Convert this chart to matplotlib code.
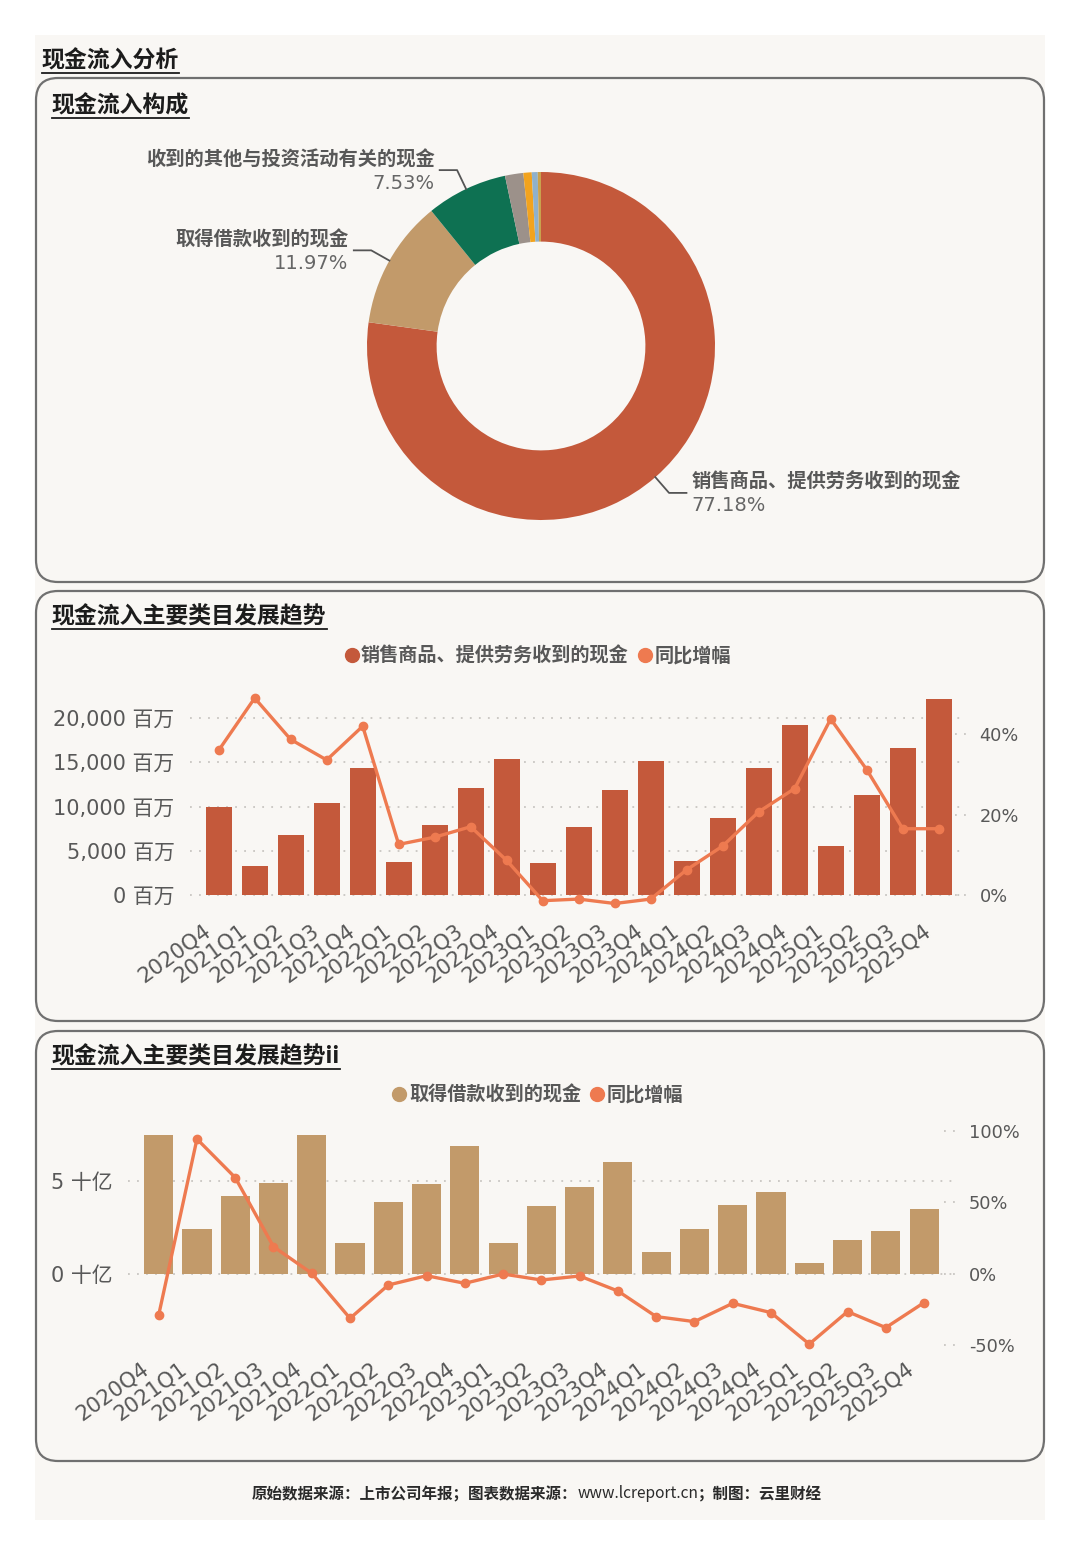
import matplotlib
matplotlib.use("Agg")
import numpy as np
import matplotlib.pyplot as plt
from matplotlib.patches import FancyBboxPatch, Rectangle
from matplotlib.lines import Line2D
from matplotlib.transforms import ScaledTranslation

W, H = 1080, 1555
DPI = 100

CJK = ['Noto Sans CJK SC', 'DejaVu Sans']
MIX = ['DejaVu Sans', 'Noto Sans CJK SC']
plt.rcParams['font.family'] = MIX

# ---- data ----
pie_names = ["销售商品、提供劳务收到的现金", "取得借款收到的现金",
             "收到的其他与投资活动有关的现金", "其他a", "其他b", "其他c", "其他d"]
pie_values = [77.18, 11.97, 7.53, 1.70, 0.77, 0.55, 0.30]
pie_colors = ['#C4593B', '#C29A6A', '#0E7152', '#9C918A', '#F2A31E', '#8FB1CB', '#C9A24E']
pie_labelled = [True, True, True, False, False, False, False]

quarters = ["2020Q4", "2021Q1", "2021Q2", "2021Q3", "2021Q4", "2022Q1", "2022Q2",
            "2022Q3", "2022Q4", "2023Q1", "2023Q2", "2023Q3", "2023Q4", "2024Q1",
            "2024Q2", "2024Q3", "2024Q4", "2025Q1", "2025Q2", "2025Q3", "2025Q4"]
# 销售商品、提供劳务收到的现金 (百万)
sales = [10000, 3300, 6800, 10400, 14300, 3700, 7900, 12100, 15400, 3600, 7700,
         11900, 15200, 3800, 8700, 14300, 19200, 5500, 11300, 16600, 22200]
sales_yoy = [36.0, 49.0, 38.7, 33.6, 42.0, 12.6, 14.4, 17.0, 8.6, -1.4, -1.0,
             -2.1, -1.0, 6.3, 12.2, 20.7, 26.5, 43.8, 31.2, 16.5, 16.5]
# 取得借款收到的现金 (十亿)
loans = [7.47, 2.44, 4.19, 4.91, 7.47, 1.68, 3.85, 4.82, 6.90, 1.68, 3.66,
         4.70, 6.04, 1.16, 2.42, 3.69, 4.41, 0.61, 1.81, 2.33, 3.48]
loans_yoy = [-28.7, 94.4, 67.4, 19.1, 0.5, -31.0, -7.7, -1.2, -6.5, 0.0, -4.2,
             -1.4, -11.9, -29.8, -33.3, -20.5, -27.0, -49.0, -26.3, -37.5, -20.0]

LINE_C = '#EE7A50'
TXT = '#585858'
GRID = '#c9c6c2'


def rect(x0, y0, x1, y1):
    return [x0 / W, 1 - y1 / H, (x1 - x0) / W, (y1 - y0) / H]


fig = plt.figure(figsize=(W / DPI, H / DPI), dpi=DPI, facecolor='white')

# background / frame axes in pixel units
bg = fig.add_axes([0, 0, 1, 1])
bg.set_xlim(0, W)
bg.set_ylim(H, 0)
bg.axis('off')
bg.add_patch(Rectangle((35, 35), 1010, 1485, facecolor='#F9F7F4', edgecolor='none'))
for (y0, y1) in [(78, 582), (591, 1021), (1031, 1461)]:
    bg.add_patch(FancyBboxPatch((36, y0), 1008, y1 - y0,
                                boxstyle="round,pad=0,rounding_size=22",
                                facecolor='none', edgecolor='#707070', lw=1.6))

titles = []
titles.append(bg.text(42, 61, "现金流入分析", family=CJK, fontsize=16.5,
                      weight='bold', color='#1c1c1c', va='center'))
titles.append(bg.text(52, 106, "现金流入构成", family=CJK, fontsize=16.5,
                      weight='bold', color='#1c1c1c', va='center'))
titles.append(bg.text(52, 617, "现金流入主要类目发展趋势", family=CJK, fontsize=16.5,
                      weight='bold', color='#1c1c1c', va='center'))
titles.append(bg.text(52, 1057, "现金流入主要类目发展趋势ii", family=CJK, fontsize=16.5,
                      weight='bold', color='#1c1c1c', va='center'))

# ---- pie ----
axp = fig.add_axes(rect(367, 172, 715, 520))
wedges, _ = axp.pie(pie_values, colors=pie_colors, startangle=90, counterclock=False,
                    wedgeprops=dict(width=0.4, edgecolor='none'))
axp.set_xlim(-1, 1)
axp.set_ylim(-1, 1)
axp.axis('off')
for w, name, val, show in zip(wedges, pie_names, pie_values, pie_labelled):
    if not show:
        continue
    ang = np.deg2rad((w.theta1 + w.theta2) / 2)
    x0, y0 = np.cos(ang), np.sin(ang)
    x1, y1 = 1.12 * x0, 1.12 * y0
    side = 1 if x0 > 0 else -1
    x2 = x1 + side * 0.1
    axp.plot([x0, x1, x2], [y0, y1, y1], color='#555555', lw=1.3, clip_on=False)
    ha = 'left' if side > 0 else 'right'
    xt = x2 + side * 0.03
    axp.text(xt, y1 + 0.005, name, ha=ha, va='bottom', family=CJK, fontsize=13.9,
             weight='bold', color=TXT)
    axp.text(xt, y1 - 0.02, f"{val:.2f}%", ha=ha, va='top', fontsize=14,
             color='#666666')


def trend(rect_px, values, yoy, bar_color, xlim, ylim, yticks, yfmt, rlim, rticks,
          width, lab_dx, lab_dy):
    ax = fig.add_axes(rect(*rect_px))
    ax.set_facecolor('none')
    x = np.arange(len(quarters))
    ax.bar(x, values, width=width, color=bar_color, zorder=2)
    ax.set_xlim(*xlim)
    ax.set_ylim(*ylim)
    ax.set_yticks(yticks)
    ax.set_yticklabels([yfmt(v) for v in yticks], fontsize=15, color=TXT)
    ax.set_xticks(x)
    ax.set_xticklabels(quarters, rotation=36, ha='right', va='center',
                       rotation_mode='anchor', fontsize=15.3, color=TXT)
    ax.tick_params(axis='y', length=0, pad=11)
    ax.tick_params(axis='x', length=0, pad=18)
    # shift labels after tick_params (it resets the label transforms)
    off = ScaledTranslation(lab_dx / DPI, lab_dy / DPI, fig.dpi_scale_trans)
    for lab in ax.get_xticklabels():
        lab.set_transform(lab.get_transform() + off)
    ax.yaxis.grid(True, linestyle=(0, (1, 4)), color=GRID, lw=1.3)
    ax.set_axisbelow(True)
    for s in ax.spines.values():
        s.set_visible(False)

    axr = ax.twinx()
    axr.plot(x, yoy, color=LINE_C, lw=2.4, marker='o', ms=6, clip_on=False, zorder=3)
    axr.set_ylim(*rlim)
    axr.set_yticks(rticks)
    axr.set_yticklabels([f"{v}%" for v in rticks], fontsize=12.8, color=TXT)
    axr.tick_params(axis='y', length=0, pad=12)
    for v in rticks:
        axr.axhline(v, xmin=0.99, xmax=1.012, linestyle=(0, (1, 4)), color=GRID,
                    lw=1.3, clip_on=False)
    for s in axr.spines.values():
        s.set_visible(False)
    return ax


trend((190, 697.7, 963, 903.9), sales, sales_yoy, '#C4593B',
      (-0.797, 20.675), (-1000, 22300), [0, 5000, 10000, 15000, 20000],
      lambda v: f"{v:,} 百万", (-2.2, 49.09), [0, 20, 40], 0.72, -10, 0)

trend((128, 1131, 952, 1346), loans, loans_yoy, '#C29A6A',
      (-0.802, 20.73), (-3.87, 7.69), [0, 5],
      lambda v: f"{v} 十亿", (-50.35, 100), [-50, 0, 50, 100], 0.76, -12, 4)

# legends
leg_font = dict(family=CJK, size=13.8, weight='bold')
for (cy, name, col) in [(656, pie_names[0], '#C4593B'), (1095, pie_names[1], '#C29A6A')]:
    handles = [Line2D([], [], marker='o', ls='none', ms=10, color=col),
               Line2D([], [], marker='o', ls='none', ms=10, color=LINE_C)]
    fig.legend(handles, [name, "同比增幅"], loc='center',
               bbox_to_anchor=(538 / W, 1 - cy / H), ncol=2, frameon=False,
               handlelength=0.7, handletextpad=0.15, columnspacing=0.5,
               prop=leg_font, labelcolor=TXT)

# footer
parts = [("原始数据来源：上市公司年报；图表数据来源：", 'bold'),
         ("www.lcreport.cn", 'normal'),
         ("；制图：云里财经", 'bold')]
foot = [bg.text(0, 1494, s, family=CJK, fontsize=11.2, weight=wt, color='#2a2a2a',
                va='center', ha='left') for s, wt in parts]

fig.canvas.draw()
r = fig.canvas.get_renderer()
widths = [t.get_window_extent(r).width for t in foot]
xs = 537 - sum(widths) / 2
for t, wd in zip(foot, widths):
    t.set_x(xs)
    xs += wd

for t in titles:
    bb = t.get_window_extent(r)
    yb = H - bb.y0 + 0.5
    bg.plot([bb.x0, bb.x1], [yb, yb], color='#1c1c1c', lw=1.3)

fig.savefig("out.png", dpi=DPI, facecolor='white')
